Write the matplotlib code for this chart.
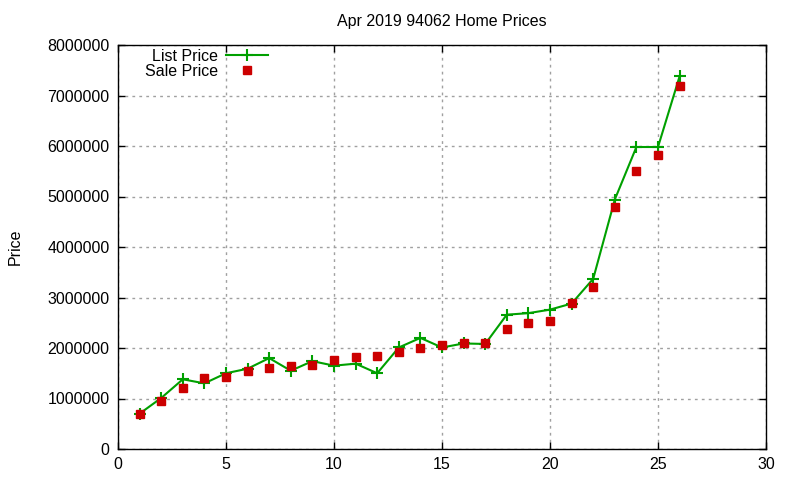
import matplotlib
matplotlib.use("Agg")
import matplotlib.pyplot as plt
from matplotlib.ticker import FuncFormatter

plt.rcParams['font.family'] = ['Liberation Sans', 'DejaVu Sans']

# listing index
homes = list(range(1, 27))
list_price = [700000, 1010000, 1380000, 1300000, 1500000, 1590000, 1800000, 1550000,
              1740000, 1650000, 1690000, 1500000, 2010000, 2200000, 2010000, 2090000,
              2080000, 2660000, 2690000, 2760000, 2880000, 3370000, 4940000, 5980000,
              5980000, 7380000]
sale_price = [690000, 955000, 1210000, 1410000, 1430000, 1550000, 1610000, 1640000,
              1670000, 1760000, 1820000, 1840000, 1920000, 2000000, 2060000, 2100000,
              2100000, 2380000, 2500000, 2540000, 2890000, 3210000, 4790000, 5500000,
              5830000, 7180000]

fig = plt.figure(figsize=(8, 4.8), dpi=100)
ax = fig.add_axes([118/800, 31/480, 648/800, 404/480])

ax.plot(homes, list_price, color='#00a000', linewidth=1.5, marker='+',
        markersize=8, markeredgewidth=1.5, label='List Price', zorder=3)
ax.plot(homes, sale_price, linestyle='none', marker='s', color='#cc0000',
        markersize=6, label='Sale Price', zorder=4)

ax.set_xlim(0, 30)
ax.set_ylim(0, 8000000)
ax.set_xticks(range(0, 31, 5))
ax.set_yticks(range(0, 8000001, 1000000))
ax.yaxis.set_major_formatter(FuncFormatter(lambda v, p: '%d' % v))
ax.tick_params(direction='in', top=True, right=True, length=5, width=1,
               labelsize=11.5, pad=6)
ax.grid(True, color='#a0a0a0', linestyle=(0, (2, 3)), linewidth=1)
for s in ax.spines.values():
    s.set_linewidth(1)

ax.set_title('Apr 2019 94062 Home Prices', fontsize=11.5, pad=14)
ax.set_ylabel('Price', fontsize=11.5, labelpad=18)

ax.legend(loc='upper left', bbox_to_anchor=(0.042, 0.99), frameon=False,
          markerfirst=False, fontsize=11.5, handlelength=2.6, labelspacing=0,
          handletextpad=0.5, borderpad=0, borderaxespad=0)

fig.savefig('out.png', dpi=100)
